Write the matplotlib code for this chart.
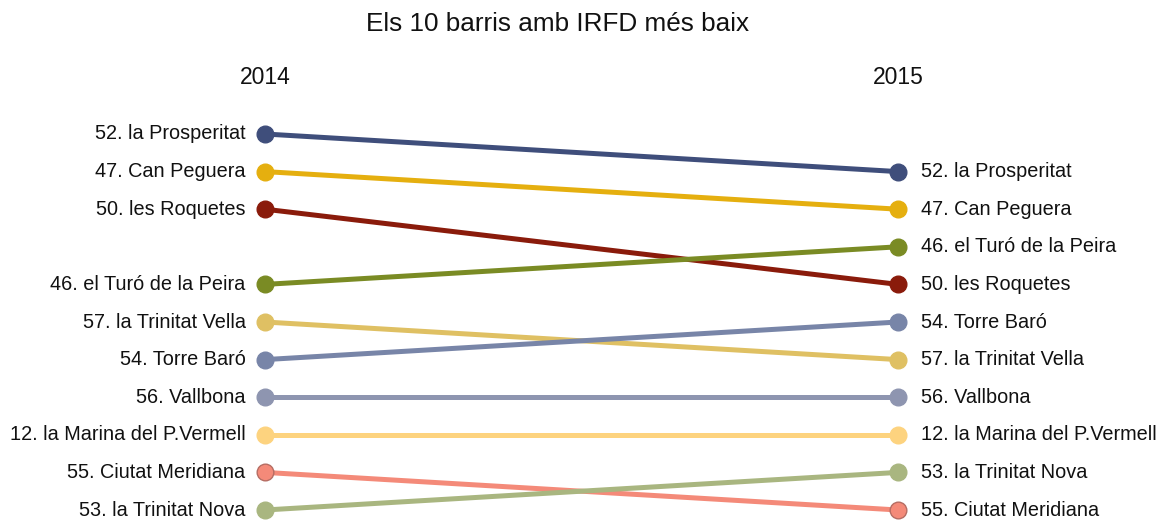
import matplotlib
matplotlib.use("Agg")
import matplotlib.pyplot as plt

plt.rcParams['font.family'] = ['Liberation Sans', 'DejaVu Sans']

years = [2014, 2015]
barris = ["52. la Prosperitat", "47. Can Peguera", "50. les Roquetes",
          "46. el Turó de la Peira", "57. la Trinitat Vella", "54. Torre Baró",
          "56. Vallbona", "12. la Marina del P.Vermell", "55. Ciutat Meridiana",
          "53. la Trinitat Nova"]
rank_2014 = [1, 2, 3, 5, 6, 7, 8, 9, 10, 11]
rank_2015 = [2, 3, 5, 4, 7, 6, 8, 9, 11, 10]
colors = ["#3f4e7b", "#e5af0f", "#8a1b0b", "#7a8b24", "#dfc063",
          "#7885a8", "#8e95b0", "#fdd37f", "#f48a79", "#a9b680"]
edges = ["#3f4e7b", "#e5af0f", "#8a1b0b", "#7a8b24", "#dfc063",
         "#7885a8", "#8e95b0", "#fdd37f", "#b56d63", "#a9b680"]

W, H = 1163, 523
fig = plt.figure(figsize=(W / 100, H / 100), dpi=100)
# axes placed so that 2014/2015 and rank 1/11 land at the reference pixel positions
ax = fig.add_axes([265 / W, 13 / H, (898 - 265) / W, (510 - 134) / H])
ax.set_xlim(2014, 2015)
ax.set_ylim(11, 1)
ax.axis("off")

txt = "#111111"
for name, r0, r1, c, ec in zip(barris, rank_2014, rank_2015, colors, edges):
    ax.plot(years, [r0, r1], color=c, lw=3.6, solid_capstyle="butt",
            marker="o", ms=12, mfc=c, mec=ec, mew=1, clip_on=False, zorder=2)
    ax.annotate(name, (2014, r0), xytext=(-14, 0), textcoords="offset points",
                ha="right", va="center", fontsize=14.3, color=txt)
    ax.annotate(name, (2015, r1), xytext=(16.5, 0), textcoords="offset points",
                ha="left", va="center", fontsize=14.3, color=txt)

for yr in years:
    ax.annotate(str(yr), (yr, 1), xytext=(0, 41), textcoords="offset points",
                ha="center", va="center", fontsize=16.5, color=txt)

fig.text(558 / W, 1 - 24 / H, "Els 10 barris amb IRFD més baix",
         ha="center", va="center", fontsize=18.8, color=txt)

fig.savefig("out.png", dpi=100)
